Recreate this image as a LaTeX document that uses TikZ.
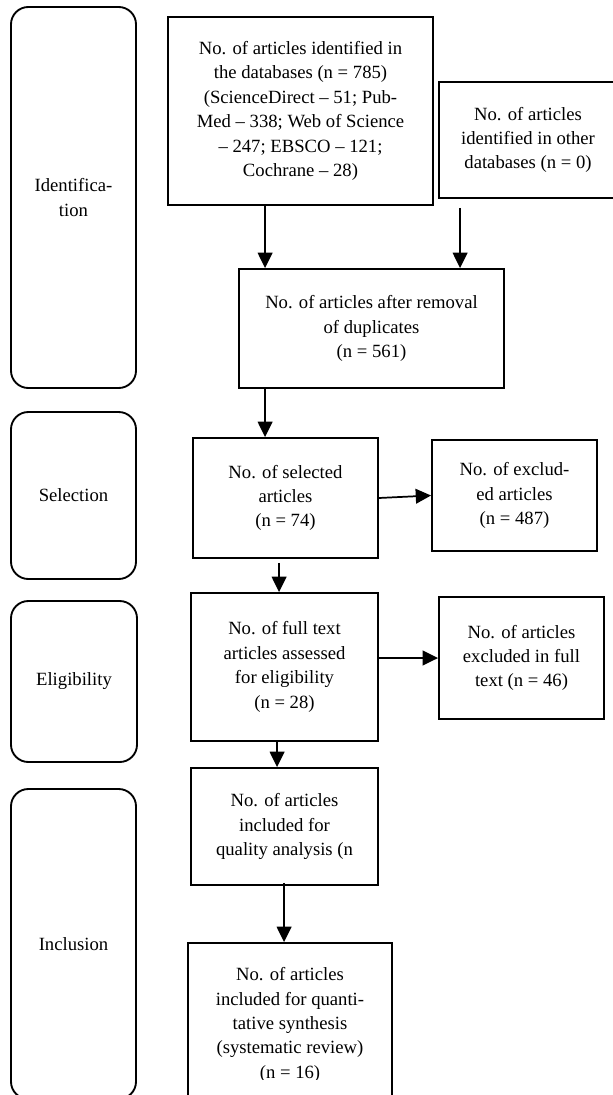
\documentclass[tikz,border=0pt]{standalone}
\usepackage{fontspec}
\setmainfont{Liberation Serif}
\usetikzlibrary{arrows.meta}
\begin{document}
\begin{tikzpicture}[x=0.75pt,y=-0.75pt,
  txt/.style={font=\fontsize{14}{18.3}\selectfont, align=center},
  bx/.style={txt, draw, line width=1.4pt, inner sep=2pt},
  stage/.style={txt, draw, line width=1.4pt, rounded corners=13pt, inner sep=2pt},
  arr/.style={line width=1.3pt, -{Triangle[length=11.5pt,width=11pt]}}]
\useasboundingbox (0,0) rectangle (613,1095);
\fill[white] (0,0) rectangle (613,1095);
\clip (0,0) rectangle (613,1095);

% stage labels
\node[stage, minimum width=125*0.75pt, minimum height=381*0.75pt] (ident) at (73.5,197.5) {Identifica-\\tion};
\node[stage, minimum width=125*0.75pt, minimum height=167*0.75pt] (selst) at (73.5,495.5) {Selection};
\node[stage, minimum width=126*0.75pt, minimum height=161*0.75pt] (eligst) at (74,681.5) {Eligibility};
\node[stage, minimum width=125*0.75pt, minimum height=310*0.75pt] (inclst) at (73.5,944) {Inclusion};

% boxes
\node[bx, minimum width=265*0.75pt, minimum height=188*0.75pt] (db) at (300.5,111)
  {No. of articles identified in\\the databases (n = 785)\\(ScienceDirect – 51; Pub-\\Med – 338; Web of Science\\– 247; EBSCO – 121;\\Cochrane – 28)};
\node[bx, minimum width=178*0.75pt, minimum height=116*0.75pt] (other) at (528,140)
  {No. of articles\\identified in other\\databases (n = 0)};
\node[bx, minimum width=265*0.75pt, minimum height=119*0.75pt] (res) at (371.5,328.5)
  {No. of articles after removal\\of duplicates\\(n = 561)};
\node[bx, minimum width=185*0.75pt, minimum height=120*0.75pt] (sel) at (285.5,498)
  {No. of selected\\articles\\(n = 74)};
\node[bx, minimum width=165*0.75pt, minimum height=111*0.75pt] (excl) at (514.5,495.5)
  {No. of exclud-\\ed articles\\(n = 487)};
\node[bx, minimum width=187*0.75pt, minimum height=148*0.75pt] (ft) at (284.5,667)
  {No. of full text\\articles assessed\\for eligibility\\(n = 28)};
\node[bx, minimum width=165*0.75pt, minimum height=122*0.75pt] (exclft) at (521.5,658)
  {No. of articles\\excluded in full\\text (n = 46)};
\node[bx, minimum width=187*0.75pt, minimum height=117*0.75pt] (qual) at (284.5,826.5)
  {No. of articles\\included for\\quality analysis (n};
\node[bx, minimum width=204*0.75pt, minimum height=164*0.75pt] (final) at (290,1025) {};
\begin{scope}
  \clip (188,943) rectangle (392,1079);
  \node[txt] (finaltxt) at (final.center)
    {No. of articles\\included for quanti-\\tative synthesis\\(systematic review)\\(n = 16)};
\end{scope}

% arrow start points
\coordinate (a1) at ([xshift=98*0.75pt]db.south west);
\coordinate (a2) at ([xshift=22*0.75pt,yshift=-9*0.75pt]other.south west);
\coordinate (a3) at ([xshift=27*0.75pt]res.south west);
\coordinate (a4) at ([xshift=87*0.75pt,yshift=-4*0.75pt]sel.south west);
\coordinate (a5) at ([xshift=87*0.75pt]ft.south west);
\coordinate (a6) at ([xshift=94*0.75pt,yshift=3*0.75pt]qual.south west);

\draw[arr] (a1) -- (a1 |- res.north);
\draw[arr] (a2) -- (a2 |- res.north);
\draw[arr] (a3) -- (a3 |- sel.north);
\draw[arr] (sel.east) -- (excl.west);
\draw[arr] (a4) -- (a4 |- ft.north);
\draw[arr] (ft.east |- exclft.west) -- (exclft.west);
\draw[arr] (a5) -- (a5 |- qual.north);
\draw[arr] (a6) -- (a6 |- final.north);
\end{tikzpicture}
\end{document}
